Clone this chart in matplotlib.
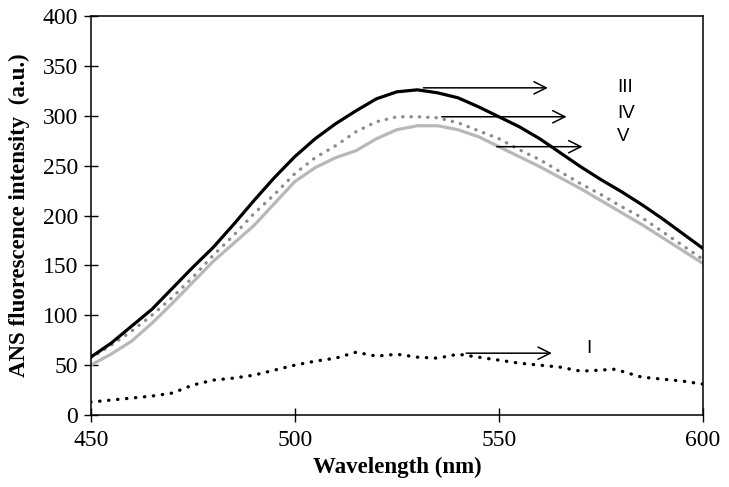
import numpy as np
import matplotlib
matplotlib.use("Agg")
import matplotlib.pyplot as plt

# curve readings (wavelength nm -> intensity a.u.)
wl_main = [450, 455, 460, 465, 470, 475, 480, 485, 490, 495, 500, 505, 510, 515, 520, 525,
           530, 535, 540, 545, 550, 555, 560, 565, 570, 575, 580, 585, 590, 595, 600]
curve_III = [58, 72, 89, 106, 127, 148, 168, 191, 215, 238, 259, 277, 292, 305, 317, 324,
             326, 323, 318, 309, 299, 289, 277, 263, 249, 236, 224, 211, 197, 182, 167]
curve_IV = [57, 70, 84, 100, 118, 138, 160, 180, 202, 221, 242, 258, 270, 284, 294, 299,
            299, 298, 293, 285, 277, 266, 256, 244, 232, 221, 209, 198, 184, 170, 156]
curve_V = [50, 61, 74, 92, 112, 133, 154, 172, 190, 212, 234, 248, 258, 265, 277, 286,
           290, 290, 286, 279, 269, 259, 249, 238, 227, 215, 203, 191, 178, 165, 152]

wl_I = [450, 455, 460, 465, 470, 475, 480, 485, 490, 495, 500, 505, 510, 515, 520, 525,
        530, 535, 540, 545, 550, 555, 560, 565, 570, 575, 578, 580, 585, 590, 595, 600]
curve_I = [13, 15, 17, 19, 22, 30, 35, 37, 40, 45, 50, 54, 57, 63, 59, 61,
           58, 57, 61, 58, 55, 52, 50, 48, 44, 45, 46, 44, 38, 36, 34, 31]

# arrows: (start wl, end wl, level) and labels
arrows = [(531.5, 562, 328), (536, 566.6, 299), (549.5, 570.5, 269), (542, 563, 62)]
labels = [("III", 579, 328), ("IV", 579, 302), ("V", 579, 279), ("I", 571.5, 67)]

fig = plt.figure(figsize=(7.29, 4.87), dpi=100)
ax = fig.add_axes([0.1244, 0.1478, 0.8399, 0.8193])

ax.plot(wl_main, curve_V, color="#b8b8b8", lw=2.3, solid_capstyle="round")
ax.plot(wl_main, curve_IV, color="#8c8c8c", lw=2.4, linestyle=(0, (0.1, 2.4)),
        dash_capstyle="round")
ax.plot(wl_main, curve_III, color="black", lw=2.3)
ax.plot(wl_I, curve_I, color="black", lw=2.4, linestyle=(0, (0.1, 2.6)),
        dash_capstyle="round")

for x0, x1, y in arrows:
    ax.annotate("", xy=(x1, y), xytext=(x0, y),
                arrowprops=dict(arrowstyle="->", lw=1.1, color="black",
                                mutation_scale=22, shrinkA=0, shrinkB=0))
for txt, x, y in labels:
    ax.text(x, y, txt, ha="left", va="center", fontsize=13.5,
            family="Liberation Sans")

ax.set_xlim(450, 600)
ax.set_ylim(0, 400)
ax.set_xticks([450, 500, 550, 600])
ax.set_yticks(np.arange(0, 401, 50))
ax.tick_params(direction="inout", length=10, width=1, labelsize=17)
ax.tick_params(axis="x", pad=6)
ax.tick_params(axis="y", pad=4)
for lab in ax.get_xticklabels() + ax.get_yticklabels():
    lab.set_family("Liberation Serif")
for sp in ax.spines.values():
    sp.set_linewidth(1.1)

ax.set_xlabel("Wavelength (nm)", family="Liberation Serif", fontweight="bold",
              fontsize=16.5, labelpad=4)
ax.set_ylabel("ANS fluorescence intensity  (a.u.)", family="Liberation Serif",
              fontweight="bold", fontsize=16.5)
ax.yaxis.set_label_coords(-0.099, 0.5)

fig.savefig("out.png", dpi=100)
